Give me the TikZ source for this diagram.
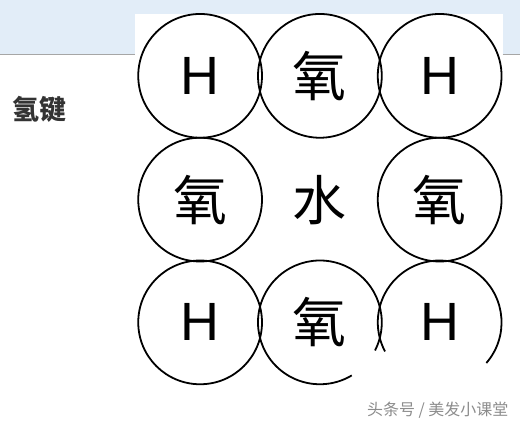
\documentclass[tikz,border=0pt]{standalone}
\usepackage{fontspec}
\setmainfont{Liberation Sans}
\newfontfamily\cjk{Noto Sans CJK SC}
\definecolor{topband}{HTML}{E2EDF8}
\definecolor{markgray}{HTML}{8C8C8C}
\begin{document}
\begin{tikzpicture}[x=1pt,y=1pt,
    atom/.style={circle,draw,line width=1.8pt,minimum size=124pt,inner sep=0pt},
    openatom/.style={circle,minimum size=124pt,inner sep=0pt,outer sep=0pt},
    hlabel/.style={font=\fontsize{54}{54}\selectfont},
    olabel/.style={font=\cjk\fontsize{54}{54}\selectfont}]
      \fill[white] (0,0) rectangle (520,426);
      \fill[topband] (0,371) rectangle (520,426);
      \fill[white] (135,0) rectangle (503,412);
      \draw[gray!70,line width=1pt] (0,371) -- (135,371);
      \draw[gray!70,line width=1pt] (503,371) -- (520,371);
      \useasboundingbox (0,0) rectangle (520,426);
      \node[atom,hlabel] (h1) at (200,350) {H};
      \node[atom,olabel] (o1) at (320,350) {氧};
      \node[atom,hlabel] (h2) at (440,350) {H};
      \node[atom,olabel] (o2) at (200,226) {氧};
      \node[olabel] (w) at (320,226) {水};
      \node[atom,olabel] (o3) at (440,226) {氧};
      \node[atom,hlabel] (h3) at (200,103) {H};
      \node[openatom,olabel] (o4) at (320,103) {氧};
      \node[openatom,hlabel] (h4) at (440,103) {H};
      \draw[line width=1.8pt] (o4.-27) arc[start angle=-27,end angle=301,radius=62];
      \draw[line width=1.8pt] (h4.-41) arc[start angle=-41,end angle=208,radius=62];
      \node[font=\cjk\bfseries\fontsize{27}{27}\selectfont,text=black!80] (bond) at (39,316) {氢键};
      \node[font=\cjk\fontsize{16}{16}\selectfont,text=markgray] (mark) at (438,15) {头条号 / 美发小课堂};
    \end{tikzpicture}
\end{document}
